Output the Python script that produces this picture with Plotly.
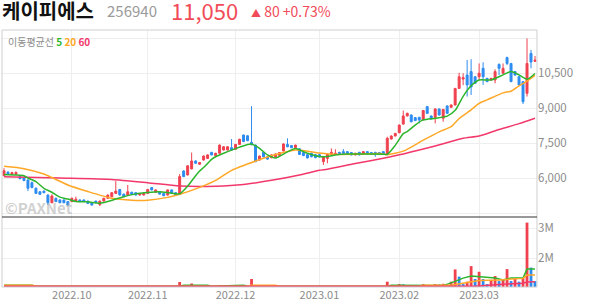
import pandas as pd
import plotly.graph_objects as go
from plotly.subplots import make_subplots

# ---------------- data ----------------
holidays = ['2022-09-09', '2022-09-12', '2022-10-03', '2022-10-10',
            '2022-12-30', '2023-01-23', '2023-01-24', '2023-03-01']
days = [d.strftime('%Y-%m-%d') for d in pd.bdate_range('2022-09-06', '2023-03-22')
        if d.strftime('%Y-%m-%d') not in holidays]

month_ticks = ['2022-10-04', '2022-11-01', '2022-12-01', '2023-01-02', '2023-02-01', '2023-03-02']
month_labels = ['2022.10', '2022.11', '2022.12', '2023.01', '2023.02', '2023.03']

open_ = [6100,6250,6160,6160,6060,6010,5910,5800,5560,5410, 5440,5270,4940,5130,5060,5060,4990,4990,5010,5060,
         5060,5010,4940,5010,4860,5010,5130,5200,5340,5510, 5310,5270,5390,5370,5270,5270,5340,5590,5390,5410,
         5340,5270,5490,5370,5300,6300,6130,6390,6730,6590, 6770,6840,7100,6960,7060,7200,7200,7300,7230,7440,
         7840,7810,7530,7410,6770,7100,6910,6870,6900,6960, 7160,7440,7390,7300,7250,7090,7000,7060,7000,7000,
         6700,6840,6990,7010,7100,7130,7130,7090,6990,7100, 7030,7130,7090,7100,7090,7130,7010,7670,7800,7940,
         8310,8660,8700,8590,8600,8490,9060,8660,8600,8960, 8560,9090,9030,9130,9840,10240,10410,10560,10340,10340,
         10700,10270,10200,10200,10870,10490,11160,10910,10560,10340, 10130,9630,11340,11000]
high_ = [6420,6290,6270,6280,6090,6040,5950,5850,5600,5440, 5460,5300,5300,5160,5090,5080,5010,5160,5200,5080,
         5080,5030,4960,5030,5030,5150,5290,5390,5870,5530, 5330,5700,5410,5390,5360,5360,5530,5610,5510,5430,
         5360,5510,5510,5390,6170,6330,6550,7090,6760,6690, 6970,7010,7120,7080,7440,7360,7360,7670,7460,7680,
         7860,7830,9080,7430,6960,7120,6930,7010,7050,7110, 7480,7700,7410,7430,7270,7110,7020,7080,7030,7060,
         6930,7030,7270,7230,7120,7240,7150,7110,7080,7120, 7150,7150,7110,7120,7110,7150,7770,7830,7940,8290,
         8890,8800,8720,8610,8620,8910,9080,8680,8980,8980, 8960,9110,9150,9860,10510,10490,11060,11090,10360,10910,
         10960,10290,10290,10660,10910,10910,11200,10930,10580,10360, 10150,11980,11490,11230]
low_ = [6080,6130,6130,6140,5950,5860,5440,5560,5320,5280, 5350,4840,4920,4970,4920,4920,4820,4970,5000,4970,
        4970,4900,4820,4920,4800,5000,5110,5180,5320,5250, 5180,5250,5280,5250,5250,5250,5320,5470,5370,5290,
        5220,5250,5320,5250,5280,6040,6110,6370,6610,6570, 6750,6820,6970,6940,7040,7180,7180,7180,7210,7420,
        7540,7580,7400,6680,6750,6890,6790,6850,6880,6940, 7140,7320,7280,7280,6990,6940,6840,6890,6850,6880,
        6560,6630,6970,6990,6990,7010,6990,6970,6970,6970, 7010,7010,6990,6910,6990,6990,6990,7650,7780,7920,
        8290,8640,8390,8440,8340,8470,8750,8510,8340,8680, 8410,8750,9010,9110,9820,9980,9490,9560,10040,10200,
        9990,10110,10180,10060,10410,10470,10840,10110,10390,9970, 9170,9490,10700,10980]
close_ = [6310,6160,6230,6240,5970,5890,5560,5590,5340,5300, 5370,4940,5230,4990,4940,4940,4840,5130,5090,4990,
          4990,4910,4840,4940,5010,5130,5270,5370,5440,5270, 5200,5410,5300,5270,5340,5340,5510,5490,5490,5310,
          5240,5490,5340,5270,6060,6060,6520,6730,6630,6660, 6940,6990,6990,7060,7410,7340,7340,7200,7440,7660,
          7560,7600,7430,6700,6940,6910,6810,6990,7030,7090, 7460,7340,7300,7410,7010,6960,6860,6910,6870,6900,
          6910,7010,7100,7060,7010,7030,7010,6990,7060,6990, 7130,7030,7010,7010,7010,7010,7700,7800,7910,8270,
          8660,8770,8410,8460,8490,8890,8770,8530,8960,8700, 8940,8770,9130,9840,10340,10300,9990,9900,10060,10490,
          10340,10130,10270,10560,10700,10700,10910,10130,10410,9990, 9270,10910,10970,11050]

# moving averages at selected days (day index -> price)
ma5_idx = [0,3,5,6,8,10,12,14,16,18, 21,24,26,28,30,33,36,39,41,44, 46,48,49,50,52,53,55,58,61,62,
           64,66,68,71,73,76,79,81,83,86, 90,95,96,98,100,101,103,105,108,111, 113,115,117,119,122,125,127,129,131,133]
ma5_val = [6150,6130,6100,6000,5840,5560,5390,5180,5100,4990, 4980,4920,4990,5100,5200,5320,5380,5410,5380,5320,
           5650,6100,6300,6450,6800,6910,7060,7260,7440,7460, 7270,6990,6860,7120,7260,7060,6920,6920,6990,7030,
           7030,7020,7010,7400,7900,7990,8270,8490,8560,8650, 8900,9500,9950,10200,10200,10420,10560,10420,10230,10480]
ma20_idx = [0,5,10,16,21,27,32,36,41,44, 49,53,57,61,65,69,73,76,79,84, 90,94,96,100,105,109,112,114,117,119,
            121,125,127,129,131,133]
ma20_val = [6500,6400,6170,5700,5420,5130,5050,5050,5170,5300, 5600,5900,6330,6600,6850,7050,7200,7150,7070,7010,
            7030,7050,7000,7150,7620,7980,8200,8550,8920,9200, 9350,9650,9720,9950,10150,10400]
ma60_idx = [0,14,27,36,44,53,60,67,74,79, 81,88,95,100,105,110,115,119,124,129,133]
ma60_val = [6057,6000,5940,5800,5660,5650,5720,5900,6130,6330, 6380,6620,6850,7030,7240,7470,7700,7800,8080,8330,8560]

# volume (millions of shares)
volume_m = [0.62,0.45,0.38,0.35,0.52,0.48,0.85,0.55,0.60,0.42, 0.35,0.70,0.58,0.40,0.33,0.30,0.45,0.50,0.62,0.35,
            0.30,0.28,0.36,0.27,0.40,0.33,0.38,0.45,0.80,0.52, 0.35,0.66,0.40,0.30,0.28,0.26,0.44,0.38,0.33,0.30,
            0.29,0.41,0.36,0.32,1.20,0.95,0.88,1.15,0.60,0.45, 0.62,0.48,0.40,0.35,1.09,0.70,0.55,1.09,0.66,0.72,
            0.85,0.70,1.30,0.98,0.60,0.45,0.40,0.38,0.42,0.36, 0.75,0.60,0.40,0.35,0.45,0.33,0.30,0.28,0.26,0.30,
            0.55,0.42,0.48,0.38,0.30,0.32,0.28,0.25,0.27,0.24, 0.30,0.26,0.24,0.28,0.25,0.27,1.21,0.90,0.85,1.13,
            1.12,0.95,0.80,0.72,0.65,1.13,0.90,0.75,1.13,1.12, 1.14,0.85,1.21,1.62,1.38,1.13,1.21,1.73,1.30,1.54,
            1.30,1.13,1.27,1.40,1.23,1.27,1.63,1.23,1.30,1.21, 1.33,3.18,1.68,1.23]
vma5_idx = [0,7,8,44,45,51,52,58,60,61,96,97,105,110,113,115,117,119,121,123,125,127,129,130,131,133]
vma5_val = [1.09,1.09,1.055,1.055,1.09,1.09,1.055,1.09,1.09,1.055,1.055,1.09,1.09,1.08,1.22,1.33,1.40,1.38,1.35,1.33,
            1.27,1.33,1.33,1.33,1.63,1.63]
vma20_idx = [0,7,8,61,62,68,69,104,105,112,116,119,124,129,130,131,133]
vma20_val = [1.09,1.09,1.055,1.055,1.09,1.09,1.055,1.055,1.09,1.09,1.18,1.25,1.27,1.30,1.32,1.43,1.43]
vma60_idx = [0,118,124,130,131,133]
vma60_val = [1.055,1.055,1.12,1.16,1.20,1.21]

price_ticks = [4500, 6000, 7500, 9000, 10500, 12000]
price_labels = ['', '6,000', '7,500', '9,000', '10,500', '']
vol_ticks = [2e6, 3e6]
vol_labels = ['2M', '3M']

# ---------------- styles ----------------
RED = '#f0414f'
BLUE = '#2d8cf0'
GREEN = '#2cb52c'
ORANGE = '#ffa726'
PINK = '#f2386b'
GRID = '#eeeeee'
FONT = 'Noto Sans CJK KR, Noto Sans, sans-serif'

fig = make_subplots(rows=2, cols=1, shared_xaxes=True, vertical_spacing=0, row_heights=[187, 70])

fig.add_trace(go.Candlestick(
    x=days, open=open_, high=high_, low=low_, close=close_,
    increasing=dict(line=dict(color=RED, width=1), fillcolor=RED),
    decreasing=dict(line=dict(color=BLUE, width=1), fillcolor=BLUE),
    whiskerwidth=0, hoverinfo='skip'), row=1, col=1)

for idx, val, col in [(ma60_idx, ma60_val, PINK), (ma20_idx, ma20_val, ORANGE), (ma5_idx, ma5_val, GREEN)]:
    fig.add_trace(go.Scatter(x=[days[i] for i in idx], y=val, mode='lines',
                             line=dict(color=col, width=1.5, shape='spline', smoothing=0.6),
                             hoverinfo='skip'), row=1, col=1)

vol = [v * 1e6 for v in volume_m]
bar_colors = [RED] + [RED if volume_m[i] >= volume_m[i - 1] else BLUE for i in range(1, len(volume_m))]
fig.add_trace(go.Bar(x=days, y=vol, marker=dict(color=bar_colors, line=dict(width=0)),
                     hoverinfo='skip'), row=2, col=1)
for idx, val, col in [(vma5_idx, vma5_val, GREEN), (vma20_idx, vma20_val, ORANGE), (vma60_idx, vma60_val, PINK)]:
    fig.add_trace(go.Scatter(x=[days[i] for i in idx], y=[v * 1e6 for v in val], mode='lines',
                             line=dict(color=col, width=1.5), hoverinfo='skip'), row=2, col=1)

xcommon = dict(type='category', categoryorder='array', categoryarray=days,
               range=[-0.5, len(days) - 0.5], tickvals=month_ticks, ticktext=month_labels,
               showgrid=True, gridcolor=GRID, gridwidth=1, showline=False, zeroline=False,
               ticks='', tickfont=dict(family=FONT, size=11, color='#8c8c8c'))
fig.update_xaxes(**xcommon)
fig.update_xaxes(showticklabels=False, rangeslider=dict(visible=False), row=1, col=1)
fig.update_xaxes(showticklabels=True, row=2, col=1)

fig.update_yaxes(side='right', range=[4329, 12343], tickvals=price_ticks, ticktext=price_labels,
                 showgrid=True, gridcolor=GRID, zeroline=False, showline=False, ticks='',
                 tickfont=dict(family=FONT, size=11.5, color='#8c8c8c'), row=1, col=1)
fig.update_yaxes(side='right', range=[1.033e6, 3.367e6], tickvals=vol_ticks, ticktext=vol_labels,
                 showgrid=True, gridcolor=GRID, zeroline=False, showline=False, ticks='',
                 tickfont=dict(family=FONT, size=11.5, color='#8c8c8c'), row=2, col=1)

split = 70 / 257
fig.update_layout(
    width=594, height=304, margin=dict(l=2, r=57, t=30, b=17),
    paper_bgcolor='white', plot_bgcolor='white', showlegend=False,
    bargap=0.3, boxgap=0.3, hovermode=False,
    font=dict(family=FONT),
    shapes=[
        dict(type='rect', xref='paper', yref='paper', x0=0, x1=1, y0=0, y1=1,
             line=dict(color='#cfcfcf', width=1)),
        dict(type='line', xref='paper', yref='paper', x0=0, x1=1, y0=split, y1=split,
             line=dict(color='#333333', width=1)),
    ],
    annotations=[
        dict(xref='paper', yref='paper', x=-0.003, y=1.074, xanchor='left', yanchor='middle',
             text='<b>케이피에스</b>', showarrow=False, font=dict(family=FONT, size=20, color='#111111')),
        dict(xref='paper', yref='paper', x=0.193, y=1.074, xanchor='left', yanchor='middle',
             text='256940', showarrow=False, font=dict(family=FONT, size=15, color='#9a9a9a')),
        dict(xref='paper', yref='paper', x=0.312, y=1.076, xanchor='left', yanchor='middle',
             text='11,050', showarrow=False, font=dict(family=FONT, size=22, color='#f24b58')),
        dict(xref='paper', yref='paper', x=0.462, y=1.074, xanchor='left', yanchor='middle',
             text="<span style='font-size:10px'>▲</span> 80 +0.73%", showarrow=False,
             font=dict(family=FONT, size=14, color='#f24b58')),
        dict(xref='paper', yref='paper', x=0.008, y=0.957, xanchor='left', yanchor='middle',
             text="이동평균선 <span style='color:%s'><b>5</b></span> <span style='color:%s'><b>20</b></span> "
                  "<span style='color:%s'><b>60</b></span>" % (GREEN, ORANGE, PINK),
             showarrow=False, font=dict(family=FONT, size=10, color='#8c8c8c')),
        dict(xref='paper', yref='paper', x=0.002, y=0.31, xanchor='left', yanchor='middle',
             text='<b>©PAXNet</b>', showarrow=False,
             font=dict(family=FONT, size=15, color='rgba(170,170,170,0.55)')),
    ],
)

fig.write_html('out.html')
